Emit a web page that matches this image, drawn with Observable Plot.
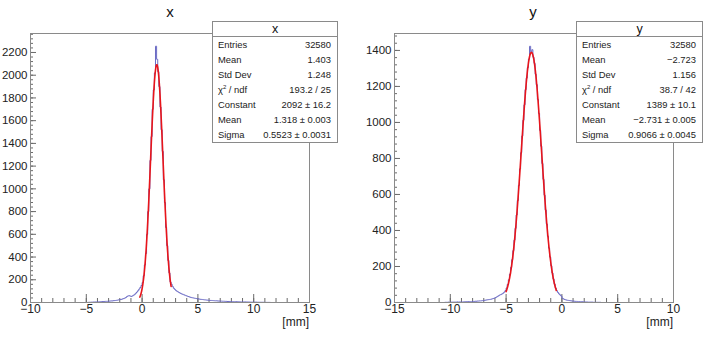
<!DOCTYPE html>
<html><head><meta charset="utf-8">
<script src="https://cdn.jsdelivr.net/npm/d3@7"></script>
<script src="https://cdn.jsdelivr.net/npm/@observablehq/plot@0.6"></script>
<style>
body{margin:0;background:#fff;font-family:"Liberation Sans",Arial,Helvetica,sans-serif;}
#wrap{position:relative;width:708px;height:337px;overflow:hidden;background:#fff;}
.panel{position:absolute;top:0;}
.title{position:absolute;font-size:15px;color:#111;transform:translateX(-50%);line-height:16px;}
.stats{position:absolute;background:#fff;border:1px solid #8a8a8a;box-sizing:border-box;font-size:9.4px;color:#222;}
.stats .hd{height:14px;line-height:14px;text-align:center;font-size:12.5px;border-bottom:1px solid #8a8a8a;color:#111;}
.stats .row{display:flex;justify-content:space-between;height:15px;line-height:15px;padding:0 6px 0 5px;white-space:nowrap;}
.stats sup{font-size:6px;vertical-align:4px;line-height:0;}
.unit{position:absolute;font-size:12px;color:#222;line-height:14px;}
</style></head><body><div id="wrap"></div>
<script>
// ---------------- data ----------------
const binWidth = 0.1;

// x histogram: first bin starts at -5.0 mm
const xBinStart = -5.0;
const xCounts = [
  0,1,2,2,3,3,4,4,5,5,
  6,6,7,7,8,8,9,10,10,11,
  12,13,14,14,16,17,18,20,22,24,
  26,28,31,34,38,44,52,58,60,56,
  54,58,64,72,82,92,104,118,132,150,
  175,235,330,430,600,800,1000,1250,1460,1700,
  1870,2020,2255,2140,2030,1900,1720,1520,1330,1080,
  880,660,500,370,260,180,160,140,125,115,
  105,98,92,86,81,76,72,68,64,60,
  56,52,49,46,43,41,39,37,35,33,
  31,30,28,27,26,24,23,22,21,20,
  19,18,18,17,16,15,15,14,13,13,
  12,12,11,11,10,10,9,9,9,8,
  8,8,7,7,7,6,6,6,5,5,
  5,5,5,4,4,4,4,3,3,3,
  3,3,3,2,2,2,2,2,2,1,
  1,1,1,1,1
];

// y histogram: first bin starts at -10.5 mm
const yBinStart = -10.5;
const yCounts = [
  1,1,1,2,1,2,2,2,2,2,
  2,3,2,3,3,3,3,4,4,4,
  4,5,5,5,5,6,6,7,7,8,
  8,9,9,10,11,12,13,14,15,16,
  17,18,20,22,24,27,30,34,38,42,
  44,48,52,58,66,80,100,126,158,196,
  238,288,346,412,486,566,650,742,832,925,
  1012,1098,1182,1246,1304,1352,1423,1392,1404,1362,
  1328,1268,1210,1128,1050,956,868,772,684,596,
  514,436,368,302,252,204,164,130,102,80,
  66,56,48,42,36,24,20,17,15,13,
  12,11,10,9,8,8,7,6,6,5,
  5,4,4,4,3,3,3,3,2,2,
  2,2,2,1,1,1,1,1,1,1
];

// Gaussian fit parameters [Constant, Mean, Sigma] and fit ranges
const xFitParams = [2092, 1.318, 0.5523];
const xFitRange = [-0.2, 2.6];
const yFitParams = [1389, -2.731, 0.9066];
const yFitRange = [-5.0, -0.5];

// axes
const xDomainX = [-10, 15];
const xDomainY = [0, 2367];
const yDomainX = [-15, 10];
const yDomainY = [0, 1494];
const xMajorTicksX = [-10, -5, 0, 5, 10, 15];
const yMajorTicksX = [-15, -10, -5, 0, 5, 10];
const xMajorTicksY = [0,200,400,600,800,1000,1200,1400,1600,1800,2000,2200];
const yMajorTicksY = [0,200,400,600,800,1000,1200,1400];

// stats boxes
const statLabels = ["Entries", "Mean", "Std Dev", "χ<sup>2</sup> / ndf", "Constant", "Mean", "Sigma"];
const xStatValues = ["32580", "1.403", "1.248", "193.2 / 25", "2092 ± 16.2", "1.318 ± 0.003", "0.5523 ± 0.0031"];
const yStatValues = ["32580", "−2.723", "1.156", "38.7 / 42", "1389 ± 10.1", "−2.731 ± 0.005", "0.9066 ± 0.0045"];
const titles = ["x", "y"];
const unitLabel = "[mm]";

// ---------------- helpers ----------------
function histPoints(start, counts) {
  const pts = [{x: start, y: 0}];
  counts.forEach((c, i) => pts.push({x: +(start + i * binWidth).toFixed(3), y: c}));
  pts.push({x: +(start + counts.length * binWidth).toFixed(3), y: 0});
  return pts;
}
function fitPoints(params, range) {
  const [C, m, s] = params;
  return d3.range(301).map(i => {
    const x = range[0] + (range[1] - range[0]) * i / 300;
    return {x, y: C * Math.exp(-0.5 * ((x - m) / s) ** 2)};
  });
}
const fmt = d3.format("d");
const frameColor = "#8a8a8a";
const tickColor = "#6a6a6a";

function panel({xDomain, yDomain, xMajor, yMajor, hist, fit, marginLeft, marginRight}) {
  const xMinor = d3.range(xDomain[0], xDomain[1] + 0.001, 1);
  const yMinor = d3.range(0, yDomain[1], 40);
  return Plot.plot({
    width: 354, height: 337,
    marginLeft, marginRight, marginTop: 33, marginBottom: 35,
    style: {fontFamily: '"Liberation Sans", Arial, Helvetica, sans-serif', fontSize: "12px", color: "#222", background: "transparent", overflow: "visible"},
    x: {domain: xDomain},
    y: {domain: yDomain},
    marks: [
      Plot.axisX(xMinor, {tickSize: -4, fill: "none", stroke: tickColor, label: null}),
      Plot.axisX(xMajor, {tickSize: -8, fill: "none", stroke: tickColor, label: null}),
      Plot.axisX(xMajor, {tickSize: 0, tickPadding: 2, tickFormat: fmt, label: null, fill: "#222"}),
      Plot.axisY(yMinor, {tickSize: -3, fill: "none", stroke: tickColor, label: null}),
      Plot.axisY(yMajor, {tickSize: -6, fill: "none", stroke: tickColor, label: null}),
      Plot.axisY(yMajor, {tickSize: 0, tickPadding: 3, tickFormat: fmt, label: null, fill: "#222", fontSize: 11.5}),
      Plot.line(hist, {x: "x", y: "y", curve: "step-after", stroke: "#6a6ac4", strokeWidth: 1}),
      Plot.line(fit, {x: "x", y: "y", stroke: "#e8151b", strokeWidth: 1.6}),
      Plot.frame({stroke: frameColor, strokeWidth: 1})
    ]
  });
}

const wrap = document.getElementById("wrap");
const left = panel({xDomain: xDomainX, yDomain: xDomainY, xMajor: xMajorTicksX, yMajor: xMajorTicksY,
  hist: histPoints(xBinStart, xCounts), fit: fitPoints(xFitParams, xFitRange), marginLeft: 30, marginRight: 45});
left.classList.add("panel"); left.style.left = "0px";
wrap.appendChild(left);
const right = panel({xDomain: yDomainX, yDomain: yDomainY, xMajor: yMajorTicksX, yMajor: yMajorTicksY,
  hist: histPoints(yBinStart, yCounts), fit: fitPoints(yFitParams, yFitRange), marginLeft: 40, marginRight: 35});
right.classList.add("panel"); right.style.left = "354px";
wrap.appendChild(right);

function addDiv(cls, styles, html) {
  const d = document.createElement("div");
  d.className = cls;
  Object.assign(d.style, styles);
  d.innerHTML = html;
  wrap.appendChild(d);
  return d;
}
addDiv("title", {left: "170px", top: "4px"}, titles[0]);
addDiv("title", {left: "533px", top: "4px"}, titles[1]);
addDiv("unit", {right: (708 - 309) + "px", top: "315px"}, unitLabel);
addDiv("unit", {right: (708 - 673) + "px", top: "315px"}, unitLabel);

function statsBox(left, width, title, values) {
  const rows = statLabels.map((l, i) => `<div class="row"><span>${l}</span><span>${values[i]}</span></div>`).join("");
  addDiv("stats", {left: left + "px", top: "21px", width: width + "px", height: "122px"},
    `<div class="hd">${title}</div>${rows}`);
}
statsBox(212, 126, titles[0], xStatValues);
statsBox(576, 127, titles[1], yStatValues);
</script></body></html>
